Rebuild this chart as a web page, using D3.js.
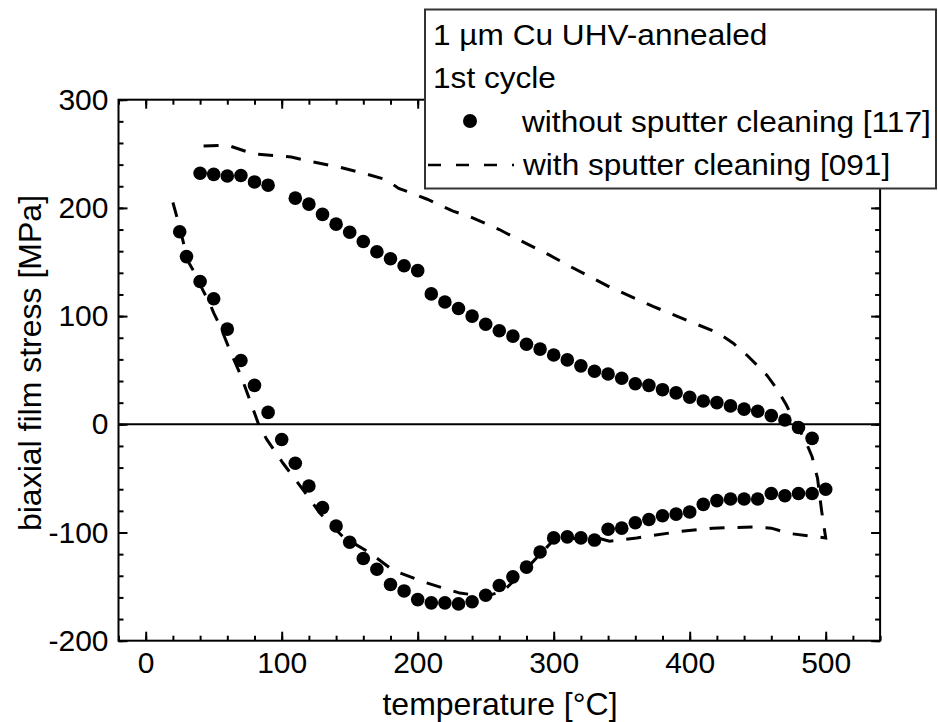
<!DOCTYPE html>
<html>
<head>
<meta charset="utf-8">
<script src="https://cdn.jsdelivr.net/npm/d3@7"></script>
<style>
  html, body { margin: 0; padding: 0; background: #fff; }
  svg { display: block; font-family: "Liberation Sans", Arial, sans-serif; }
</style>
</head>
<body>
<svg id="chart" width="938" height="722"></svg>
<script>
// Temperature [°C] and biaxial stress [MPa], 1st thermal cycle, without sputter cleaning (heating, then cooling)
const heatT = [25, 30, 40, 50, 60, 70, 80, 90, 100, 110, 120, 130, 140, 150, 160, 170, 180, 190, 200,
  210, 220, 230, 240, 250, 260, 270, 280, 290, 300, 310, 320, 330, 340, 350, 360, 370, 380, 390, 400,
  410, 420, 430, 440, 450, 460, 470, 480, 490, 500];
const heatS = [178, 155, 132, 116, 88, 59, 36, 11, -14, -36, -57, -77, -94, -109, -124, -134, -148, -154, -162,
  -165, -165, -166, -164, -158, -149, -141, -132, -118, -105, -104, -105, -107, -97, -96, -91, -88, -84.5, -83, -81,
  -74, -70.5, -69, -69, -69, -64, -66, -64, -64, -60];
const coolT = [490, 480, 470, 460, 450, 440, 430, 420, 410, 400, 390, 380, 370, 360, 350, 340, 330, 320, 310,
  300, 290, 280, 270, 260, 250, 240, 230, 220, 210, 200, 190, 180, 170, 160, 150, 140, 130, 120, 110,
  90, 80, 70, 60, 50, 40];
const coolS = [-13, -3, 4, 8, 12, 14, 17, 20, 21.5, 25, 29, 32, 36, 37.5, 42.5, 46.5, 49, 54, 59.5,
  64, 69.5, 74, 81.5, 86.5, 92.5, 100, 107, 113, 120.5, 142, 146.5, 153, 159.5, 169, 177.5, 185, 194, 203.5, 209,
  221, 224, 230, 229.5, 231, 232];

// With sputter cleaning: continuous record, heating then cooling
const sputT = [20, 25, 31, 36, 42, 47, 50, 55, 62, 70, 83, 89, 101, 116, 128, 145, 165, 182, 205, 231, 250, 263,
  278, 290, 300, 320, 332, 341, 361, 393, 417, 447, 460, 474, 500,
  497, 494, 490, 485, 480, 476, 471, 464, 457, 450, 442, 432, 420, 398, 373, 341, 312, 296, 280, 260, 238,
  226, 207, 197, 186, 177, 163, 143, 121, 107, 79, 60, 40];
const sputS = [205, 182, 151, 140, 124, 112, 103, 90, 68, 45, 0, -14, -36, -61, -82, -104, -119, -135, -146, -156, -159, -154,
  -136, -120, -107, -105, -105, -108, -105, -99, -96, -95, -96, -101, -105,
  -80, -50, -30, -15, -4, 5, 18, 33, 45, 54, 64, 75, 85, 96, 109, 127, 146, 157, 167, 180, 192,
  197, 208, 213, 218, 226, 231, 237.5, 243, 247, 250, 258, 257];

const xTicks = [0, 100, 200, 300, 400, 500];
const yTicks = [-200, -100, 0, 100, 200, 300];
const xMinor = d3.range(-20, 541, 20);
const yMinor = d3.range(-200, 301, 20);

const legendTitle = ["1 µm Cu UHV-annealed", "1st cycle"];
const seriesNames = ["without sputter cleaning [117]", "with sputter cleaning [091]"];

const svg = d3.select("#chart");
const x = d3.scaleLinear().domain([-20, 540]).range([118.5, 880.1]);
const y = d3.scaleLinear().domain([-200, 300]).range([640.7, 99.7]);
const [x0, x1] = x.range();
const [yb, yt] = y.range();

// zero stress line
svg.append("line")
  .attr("x1", x0).attr("x2", x1).attr("y1", y(0)).attr("y2", y(0))
  .attr("stroke", "#000").attr("stroke-width", 2);

// dashed curve
const line = d3.line().x(d => x(d[0])).y(d => y(d[1]));
svg.append("path")
  .datum(sputT.map((t, i) => [t, sputS[i]]))
  .attr("d", line)
  .attr("fill", "none").attr("stroke", "#000").attr("stroke-width", 3)
  .attr("stroke-dasharray", "15,13");

// dots
const pts = heatT.map((t, i) => [t, heatS[i]]).concat(coolT.map((t, i) => [t, coolS[i]]));
svg.append("g").selectAll("circle").data(pts).join("circle")
  .attr("cx", d => x(d[0])).attr("cy", d => y(d[1])).attr("r", 6.8).attr("fill", "#000");

// axes: ticks point inward on all four sides
function styleAxis(g) {
  g.select(".domain").remove();
  g.selectAll(".tick line").attr("stroke", "#000").attr("stroke-width", 2);
}
const fmt = d => String(d);

svg.append("g").attr("transform", `translate(0,${yb})`)
  .call(d3.axisBottom(x).tickValues(xMinor).tickSize(-5).tickFormat("")).call(styleAxis);
svg.append("g").attr("transform", `translate(0,${yb})`)
  .call(d3.axisBottom(x).tickValues(xTicks).tickSize(-9).tickPadding(11).tickFormat(fmt)).call(styleAxis);
svg.append("g").attr("transform", `translate(0,${yt})`)
  .call(d3.axisTop(x).tickValues(xMinor).tickSize(-5).tickFormat("")).call(styleAxis);
svg.append("g").attr("transform", `translate(0,${yt})`)
  .call(d3.axisTop(x).tickValues(xTicks).tickSize(-9).tickFormat("")).call(styleAxis);

svg.append("g").attr("transform", `translate(${x0},0)`)
  .call(d3.axisLeft(y).tickValues(yMinor).tickSize(-5).tickFormat("")).call(styleAxis);
svg.append("g").attr("transform", `translate(${x0},0)`)
  .call(d3.axisLeft(y).tickValues(yTicks).tickSize(-9).tickPadding(10).tickFormat(fmt)).call(styleAxis);
svg.append("g").attr("transform", `translate(${x1},0)`)
  .call(d3.axisRight(y).tickValues(yMinor).tickSize(-5).tickFormat("")).call(styleAxis);
svg.append("g").attr("transform", `translate(${x1},0)`)
  .call(d3.axisRight(y).tickValues(yTicks).tickSize(-9).tickFormat("")).call(styleAxis);

svg.selectAll(".tick text")
  .attr("font-family", "'Liberation Sans', Arial, sans-serif")
  .attr("font-size", 30).attr("fill", "#000");

// frame
svg.append("rect")
  .attr("x", x0).attr("y", yt).attr("width", x1 - x0).attr("height", yb - yt)
  .attr("fill", "none").attr("stroke", "#000").attr("stroke-width", 2);

// axis titles
svg.append("text")
  .attr("x", 500).attr("y", 715)
  .attr("text-anchor", "middle").attr("font-size", 32)
  .text("temperature [°C]");
svg.append("text")
  .attr("transform", "translate(41,363) rotate(-90)")
  .attr("text-anchor", "middle").attr("font-size", 32)
  .text("biaxial film stress [MPa]");

// legend
const lg = svg.append("g");
lg.append("rect")
  .attr("x", 425).attr("y", 9.5).attr("width", 511).attr("height", 179)
  .attr("fill", "#fff").attr("stroke", "#333").attr("stroke-width", 2);
function legendText(tx, ty, s) {
  lg.append("text")
    .attr("transform", `translate(${tx},${ty}) scale(1.09,1)`)
    .attr("font-size", 29).attr("fill", "#000")
    .text(s);
}
legendText(433, 45, legendTitle[0]);
legendText(433, 87.5, legendTitle[1]);
lg.append("circle").attr("cx", 470).attr("cy", 121).attr("r", 7).attr("fill", "#000");
legendText(522, 131.5, seriesNames[0]);
lg.append("line")
  .attr("x1", 428).attr("x2", 514).attr("y1", 165).attr("y2", 165)
  .attr("stroke", "#000").attr("stroke-width", 2.6).attr("stroke-dasharray", "13,15");
legendText(523, 175, seriesNames[1]);
</script>
</body>
</html>
